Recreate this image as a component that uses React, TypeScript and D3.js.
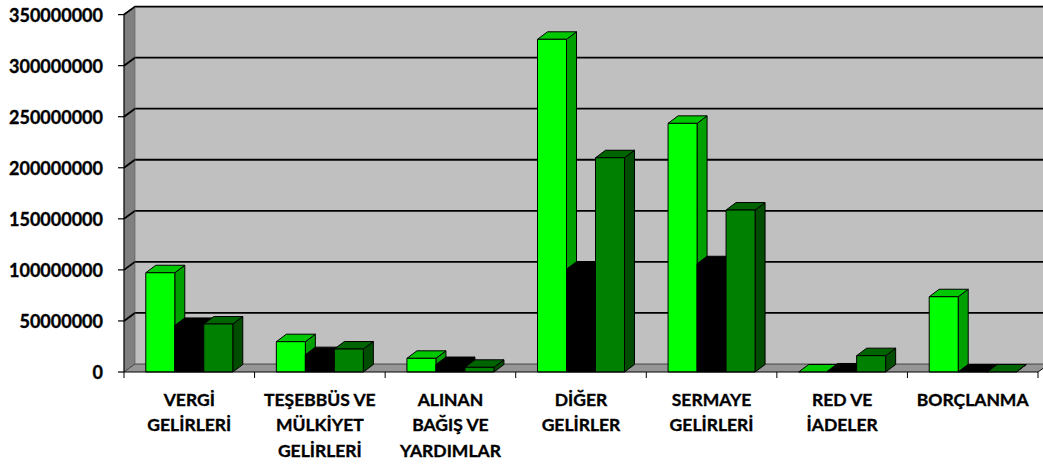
import React from "react";
import * as d3 from "d3";

const categories = [
  "VERGİ\nGELİRLERİ",
  "TEŞEBBÜS VE\nMÜLKİYET\nGELİRLERİ",
  "ALINAN\nBAĞIŞ VE\nYARDIMLAR",
  "DİĞER\nGELİRLER",
  "SERMAYE\nGELİRLERİ",
  "RED VE\nİADELER",
  "BORÇLANMA",
];
const seriesNames = ["Seri 1", "Seri 2", "Seri 3"];
const series1 = [97200000, 29700000, 13400000, 325800000, 243500000, 0, 73700000];
const series2 = [45600000, 17000000, 7300000, 100700000, 106000000, 1000000, 0];
const series3 = [47000000, 22500000, 4600000, 209800000, 158600000, 16000000, 0];
const yTicks = [0, 50000000, 100000000, 150000000, 200000000, 250000000, 300000000, 350000000];

const palettes = [
  { front: "#00FF00", top: "#00C800", side: "#00A000" },
  { front: "#000000", top: "#000000", side: "#000000" },
  { front: "#008000", top: "#006400", side: "#004C00" },
];

export default function App() {
  const W = 1043, H = 464;
  const x0 = 124, x1 = 1038;
  const yBase = 372;
  const wallDx = 11, wallDy = -8;
  const barDx = 10, barDy = -7.5;
  const y = d3.scaleLinear().domain([0, 350000000]).range([yBase, 14.6]);
  const xCat = d3.scaleBand<string>().domain(categories).range([x0, x1]).padding(0);
  const cw = xCat.bandwidth();
  const groupW = 87;
  const xSer = d3
    .scaleBand<string>()
    .domain(seriesNames)
    .range([(cw - groupW) / 2, (cw + groupW) / 2])
    .padding(0);
  const data = [series1, series2, series3];
  const font = "Lato, 'Open Sans', sans-serif";
  const wallRight = W + 10;

  const bars: React.ReactNode[] = [];
  categories.forEach((c, ci) => {
    seriesNames.forEach((s, si) => {
      const v = data[si][ci];
      const bx = (xCat(c) as number) + (xSer(s) as number);
      const bw = xSer.bandwidth();
      const yt = y(v);
      const p = palettes[si];
      const k = `${ci}-${si}`;
      bars.push(
        <g key={k} stroke="#000" strokeWidth={1} strokeLinejoin="round">
          <polygon
            points={`${bx + bw},${yt} ${bx + bw + barDx},${yt + barDy} ${bx + bw + barDx},${yBase + barDy} ${bx + bw},${yBase}`}
            fill={p.side}
          />
          <polygon
            points={`${bx},${yt} ${bx + bw},${yt} ${bx + bw + barDx},${yt + barDy} ${bx + barDx},${yt + barDy}`}
            fill={p.top}
          />
          <rect x={bx} y={yt} width={bw} height={Math.max(0, yBase - yt)} fill={p.front} />
        </g>
      );
    });
  });

  return (
    <div style={{ position: "fixed", left: 0, top: 0 }}>
      <svg width={W} height={H} style={{ display: "block", background: "#fff" }}>
        {/* back wall */}
        <rect x={x0 + wallDx} y={y(350000000) + wallDy} width={wallRight - x0 - wallDx} height={yBase + wallDy - (y(350000000) + wallDy)} fill="#C0C0C0" />
        {/* left wall */}
        <polygon
          points={`${x0},${yBase} ${x0},${y(350000000)} ${x0 + wallDx},${y(350000000) + wallDy} ${x0 + wallDx},${yBase + wallDy}`}
          fill="#808080"
        />
        {/* floor */}
        <polygon
          points={`${x0},${yBase} ${x1},${yBase} ${x1 + wallDx},${yBase + wallDy} ${x0 + wallDx},${yBase + wallDy}`}
          fill="#969696"
        />
        {/* gridlines */}
        {yTicks.map((t) => {
          const yy = y(t);
          return (
            <g key={t}>
              <line x1={118} x2={x0} y1={yy} y2={yy} stroke="#000" strokeWidth={1.2} />
              <polyline
                points={`${x0},${yy} ${x0 + wallDx},${yy + wallDy} ${t === 0 ? x1 + wallDx : wallRight},${yy + wallDy}`}
                fill="none"
                stroke="#000"
                strokeWidth={t === 0 ? 0.6 : 1.8}
              />
              <text
                x={103}
                y={yy}
                textAnchor="end"
                dominantBaseline="central"
                fontFamily={font}
                fontWeight={700}
                fontSize={18}
                fill="#000"
                stroke="#000"
                strokeWidth={0.35}
              >
                {t}
              </text>
            </g>
          );
        })}
        {/* vertical axis */}
        <line x1={x0} x2={x0} y1={y(350000000)} y2={yBase} stroke="#000" strokeWidth={1.2} />
        <line x1={x0 + wallDx} x2={x0 + wallDx} y1={y(350000000) + wallDy} y2={yBase + wallDy} stroke="#555" strokeWidth={0.6} />
        {bars}
        {/* bottom axis */}
        <line x1={x0} x2={x1} y1={yBase} y2={yBase} stroke="#000" strokeWidth={1.2} />
        <line x1={x1} x2={x1 + wallDx} y1={yBase} y2={yBase + wallDy} stroke="#000" strokeWidth={1} />
        {categories.map((c, i) => (
          <line key={"t" + i} x1={xCat(c) as number} x2={xCat(c) as number} y1={yBase} y2={yBase + 6} stroke="#000" strokeWidth={1} />
        ))}
        <line x1={x1} x2={x1} y1={yBase} y2={yBase + 6} stroke="#000" strokeWidth={1} />
        {/* category labels */}
        {categories.map((c) => {
          const cx = (xCat(c) as number) + cw / 2;
          return c.split("\n").map((ln, li) => (
            <text
              key={c + li}
              x={cx}
              y={405.5 + li * 25.5}
              textAnchor="middle"
              fontFamily={font}
              fontWeight={700}
              fontSize={17.5}
              fill="#000"
              stroke="#000"
              strokeWidth={0.35}
            >
              {ln}
            </text>
          ));
        })}
      </svg>
    </div>
  );
}
